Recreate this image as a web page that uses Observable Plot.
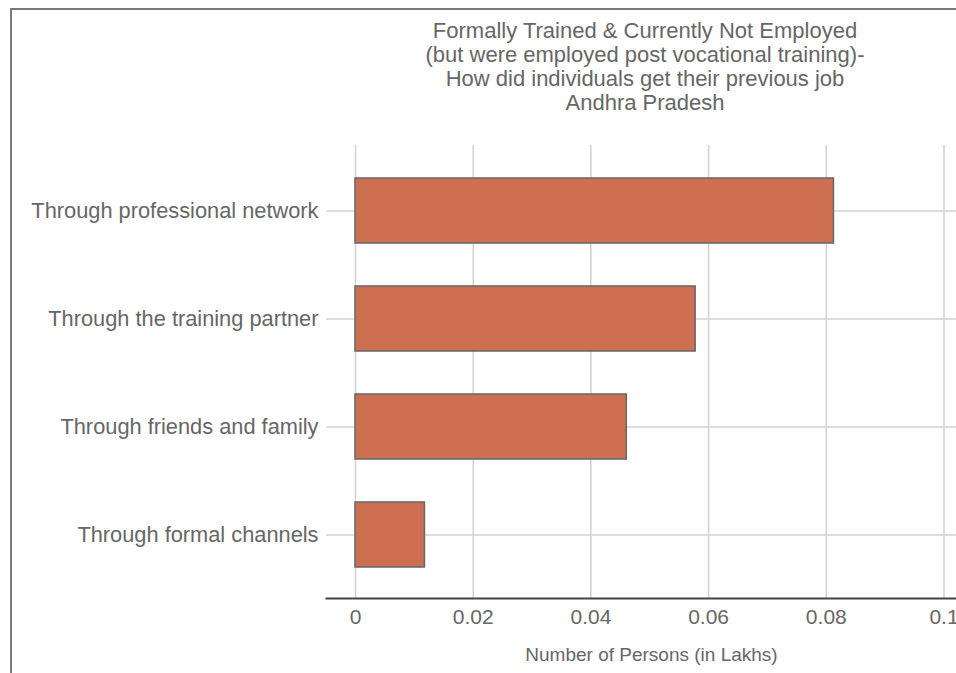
<!DOCTYPE html>
<html>
<head>
<meta charset="utf-8">
<script src="https://cdn.jsdelivr.net/npm/d3@7"></script>
<script src="https://cdn.jsdelivr.net/npm/@observablehq/plot@0.6"></script>
<style>
  html, body { margin: 0; padding: 0; background: #fff; }
  #wrap { position: relative; width: 956px; height: 673px; overflow: hidden; font-family: "Liberation Sans", Arial, sans-serif; }
  #frame { position: absolute; left: 10px; top: 8px; width: 960px; height: 700px; border-left: 2px solid #7a7a7a; border-top: 2px solid #7a7a7a; box-sizing: border-box; pointer-events: none; }
  #title { position: absolute; left: 295px; width: 700px; top: 19px; text-align: center; color: #666; font-size: 22px; line-height: 24px; }
  #chart { position: absolute; left: 0; top: 0; }
</style>
</head>
<body>
<div id="wrap">
  <div id="chart"></div>
  <div id="frame"></div>
  <div id="title">Formally Trained &amp; Currently Not Employed<br>(but were employed post vocational training)-<br>How did individuals get their previous job<br>Andhra Pradesh</div>
</div>
<script>
const categories = [
  "Through professional network",
  "Through the training partner",
  "Through friends and family",
  "Through formal channels"
];
const values = [0.0813, 0.0578, 0.0461, 0.0118];
const xTicks = [0, 0.02, 0.04, 0.06, 0.08, 0.1];
const xTickLabels = ["0", "0.02", "0.04", "0.06", "0.08", "0.1"];
const xLabel = "Number of Persons (in Lakhs)";

const data = categories.map((c, i) => ({category: c, value: values[i]}));

const chart = Plot.plot({
  width: 956,
  height: 673,
  marginTop: 145,
  marginBottom: 75,
  marginLeft: 326,
  marginRight: 0,
  style: {fontFamily: "'Liberation Sans', Arial, sans-serif", fontSize: "21px", color: "#666", background: "transparent"},
  x: {domain: [0, 0.1], insetLeft: 29, insetRight: 12.5},
  y: {domain: categories, paddingInner: 0.4, paddingOuter: 0.2, insetTop: 11, insetBottom: 10},
  marks: [
    Plot.gridX(xTicks, {stroke: "#d2d2d2", strokeOpacity: 1, strokeWidth: 1.5}),
    Plot.gridY(categories, {stroke: "#d2d2d2", strokeOpacity: 1, strokeWidth: 1.5}),
    Plot.barX(data, {x: "value", y: "category", fill: "#CD7052", stroke: "#666", strokeWidth: 1.5}),
    Plot.frame({anchor: "bottom", stroke: "#444", strokeWidth: 2}),
    Plot.axisX({ticks: xTicks, tickFormat: (d, i) => xTickLabels[i], tickSize: 0, tickPadding: 11, fontSize: 21, fill: "#666",
      label: xLabel, labelAnchor: "center", labelArrow: "none", labelOffset: 62}),
    Plot.axisY({tickSize: 0, tickPadding: 8, fontSize: 21.8, fill: "#666", label: null})
  ]
});
const lab = chart.querySelector("g[aria-label='x-axis label']");
if (lab) {
  lab.setAttribute("font-size", "19");
  lab.querySelectorAll("text").forEach(t => { t.setAttribute("font-size", "19"); t.setAttribute("dx", "10"); });
}
document.getElementById("chart").appendChild(chart);
</script>
</body>
</html>
